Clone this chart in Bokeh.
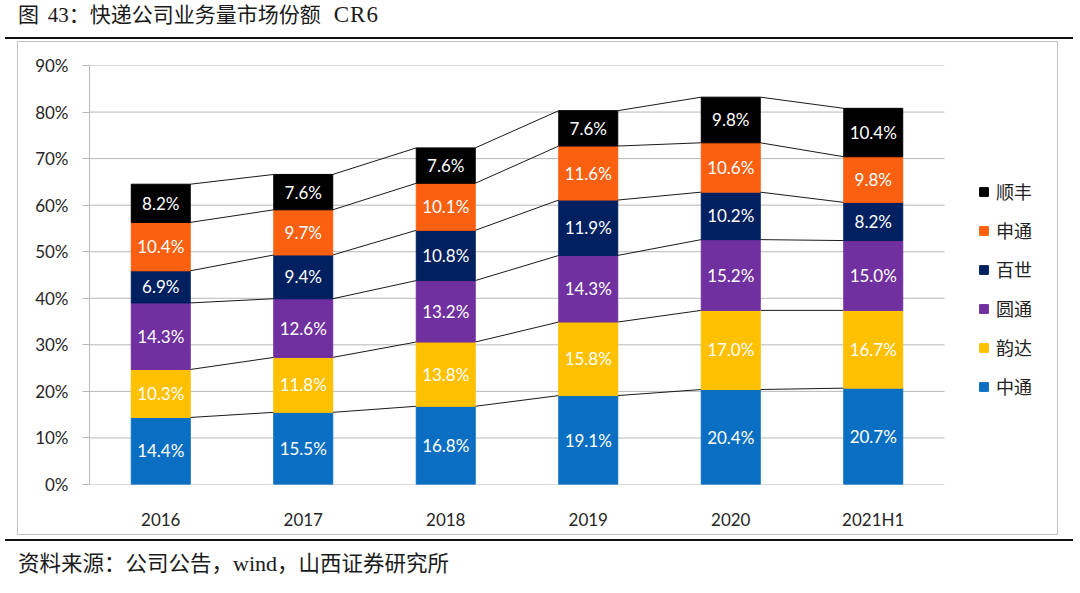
from bokeh.plotting import figure
from bokeh.layouts import column
from bokeh.models import (ColumnDataSource, Range1d, FixedTicker, PrintfTickFormatter,
                          Legend, LegendItem, Div)
from bokeh.core.properties import value
from bokeh.embed import file_html
from bokeh.resources import INLINE

# ---------------- data ----------------
years = ["2016", "2017", "2018", "2019", "2020", "2021H1"]
zto = [14.4, 15.5, 16.8, 19.1, 20.4, 20.7]      # 中通
yunda = [10.3, 11.8, 13.8, 15.8, 17.0, 16.7]    # 韵达
yto = [14.3, 12.6, 13.2, 14.3, 15.2, 15.0]      # 圆通
best = [6.9, 9.4, 10.8, 11.9, 10.2, 8.2]        # 百世
sto = [10.4, 9.7, 10.1, 11.6, 10.6, 9.8]        # 申通
sf = [8.2, 7.6, 7.6, 7.6, 9.8, 10.4]            # 顺丰
series_keys = ["zto", "yunda", "yto", "best", "sto", "sf"]
series_names = ["中通", "韵达", "圆通", "百世", "申通", "顺丰"]
series_vals = [zto, yunda, yto, best, sto, sf]
y_ticks = [0, 10, 20, 30, 40, 50, 60, 70, 80, 90]

SERIF = "'Liberation Serif'"
title_text = (f"图 <span style=\"font-family:{SERIF}; padding-left:4px\">43</span>：快递公司业务量市场份额"
              f"<span style=\"font-family:{SERIF}; font-size:23px; letter-spacing:1px; "
              f"padding-left:13px\">CR6</span>")
source_text = (f"资料来源：公司公告，<span style=\"font-family:{SERIF}; font-size:22px\">wind</span>，山西证券研究所")

colors = ["#0A6FC2", "#FFC000", "#7030A0", "#002060", "#FA6010", "#000000"]
BAR_W = 0.414
CJK = "Noto Sans CJK SC"
NUM = "Lato"
GRID = "#b8b8b8"

xs = list(range(len(years)))
data = {"x": xs}
for k, v in zip(series_keys, series_vals):
    data[k] = v
src = ColumnDataSource(data)

x_start = -0.5
x_last = len(years) - 0.5
p = figure(width=1041, height=494, output_backend="svg", toolbar_location=None,
           x_range=Range1d(x_start, 6.3), y_range=Range1d(0, 90),
           min_border_left=71, min_border_right=1, min_border_top=23, min_border_bottom=52,
           margin=(2, 0, 0, 17), styles={"border": "1px solid #c4c4c4"})
p.outline_line_color = None
p.background_fill_color = "white"
p.border_fill_color = "white"

# horizontal gridlines limited to the category area
p.segment(x0=[x_start] * len(y_ticks), x1=[x_last] * len(y_ticks), y0=y_ticks, y1=y_ticks,
          line_color=GRID, line_width=1)

# series lines between bars
cum = [0.0] * len(years)
x0s, y0s, x1s, y1s = [], [], [], []
lab_x, lab_y, lab_t = [], [], []
for vals in series_vals:
    mids = [c + v / 2 for c, v in zip(cum, vals)]
    cum = [c + v for c, v in zip(cum, vals)]
    for i in range(len(years) - 1):
        x0s.append(xs[i] + BAR_W / 2)
        y0s.append(cum[i])
        x1s.append(xs[i + 1] - BAR_W / 2)
        y1s.append(cum[i + 1])
    for i in range(len(years)):
        lab_x.append(xs[i])
        lab_y.append(mids[i])
        lab_t.append(f"{vals[i]:.1f}%")

p.segment(x0=x0s, y0=y0s, x1=x1s, y1=y1s, line_color="#1a1a1a", line_width=1)

renderers = p.vbar_stack(series_keys, x="x", width=BAR_W, color=colors, source=src)

p.text(x=lab_x, y=lab_y, text=lab_t, text_align="center", text_baseline="middle",
       text_color="white", text_font=value(NUM), text_font_size="17px")

# axes
p.xgrid.grid_line_color = None
p.ygrid.grid_line_color = None
p.yaxis.ticker = FixedTicker(ticks=y_ticks)
p.yaxis.formatter = PrintfTickFormatter(format="%d%%")
p.yaxis.axis_line_color = GRID
p.yaxis.major_tick_line_color = GRID
p.yaxis.major_tick_out = 7
p.yaxis.major_tick_in = 0
p.yaxis.minor_tick_line_color = None
p.yaxis.major_label_standoff = 14
p.yaxis.major_label_text_font = NUM
p.yaxis.major_label_text_font_size = "17px"
p.yaxis.major_label_text_color = "#262626"

p.xaxis.ticker = FixedTicker(ticks=xs)
p.xaxis.major_label_overrides = {i: y for i, y in zip(xs, years)}
p.xaxis.axis_line_color = None
p.xaxis.major_tick_line_color = None
p.xaxis.minor_tick_line_color = None
p.xaxis.major_label_standoff = 18
p.xaxis.major_label_text_font = NUM
p.xaxis.major_label_text_font_size = "17px"
p.xaxis.major_label_text_color = "#262626"

# legend inside the (widened) frame, right of the bars
items = [LegendItem(label=n, renderers=[r]) for n, r in zip(series_names, renderers)][::-1]
legend = Legend(items=items, location=(889, 85), glyph_width=11, glyph_height=11,
                label_height=22, spacing=13, padding=0, margin=0,
                border_line_color=None, background_fill_alpha=0,
                label_text_font=CJK, label_text_font_size="18px",
                label_standoff=7, label_text_color="#222222")
p.add_layout(legend, "center")

title_div = Div(
    text=f"<div style=\"font-family:'{CJK}'; font-size:21px; line-height:26px; "
         f"color:#1a1a1a; padding-left:13px; white-space:nowrap\">{title_text}</div>",
    width=1068, height=39, margin=(0, 0, 0, 5),
    styles={"border-bottom": "2px solid #111111"})

footer_div = Div(
    text=f"<div style=\"font-family:'{CJK}'; font-size:21.5px; line-height:42px; "
         f"color:#1a1a1a; padding-left:13px; white-space:nowrap\">{source_text}</div>",
    width=1068, height=42, margin=(4, 0, 0, 5),
    styles={"border-top": "2px solid #111111"})

layout = column(title_div, p, footer_div, spacing=0)

open("out.html", "w").write(file_html(layout, INLINE))
